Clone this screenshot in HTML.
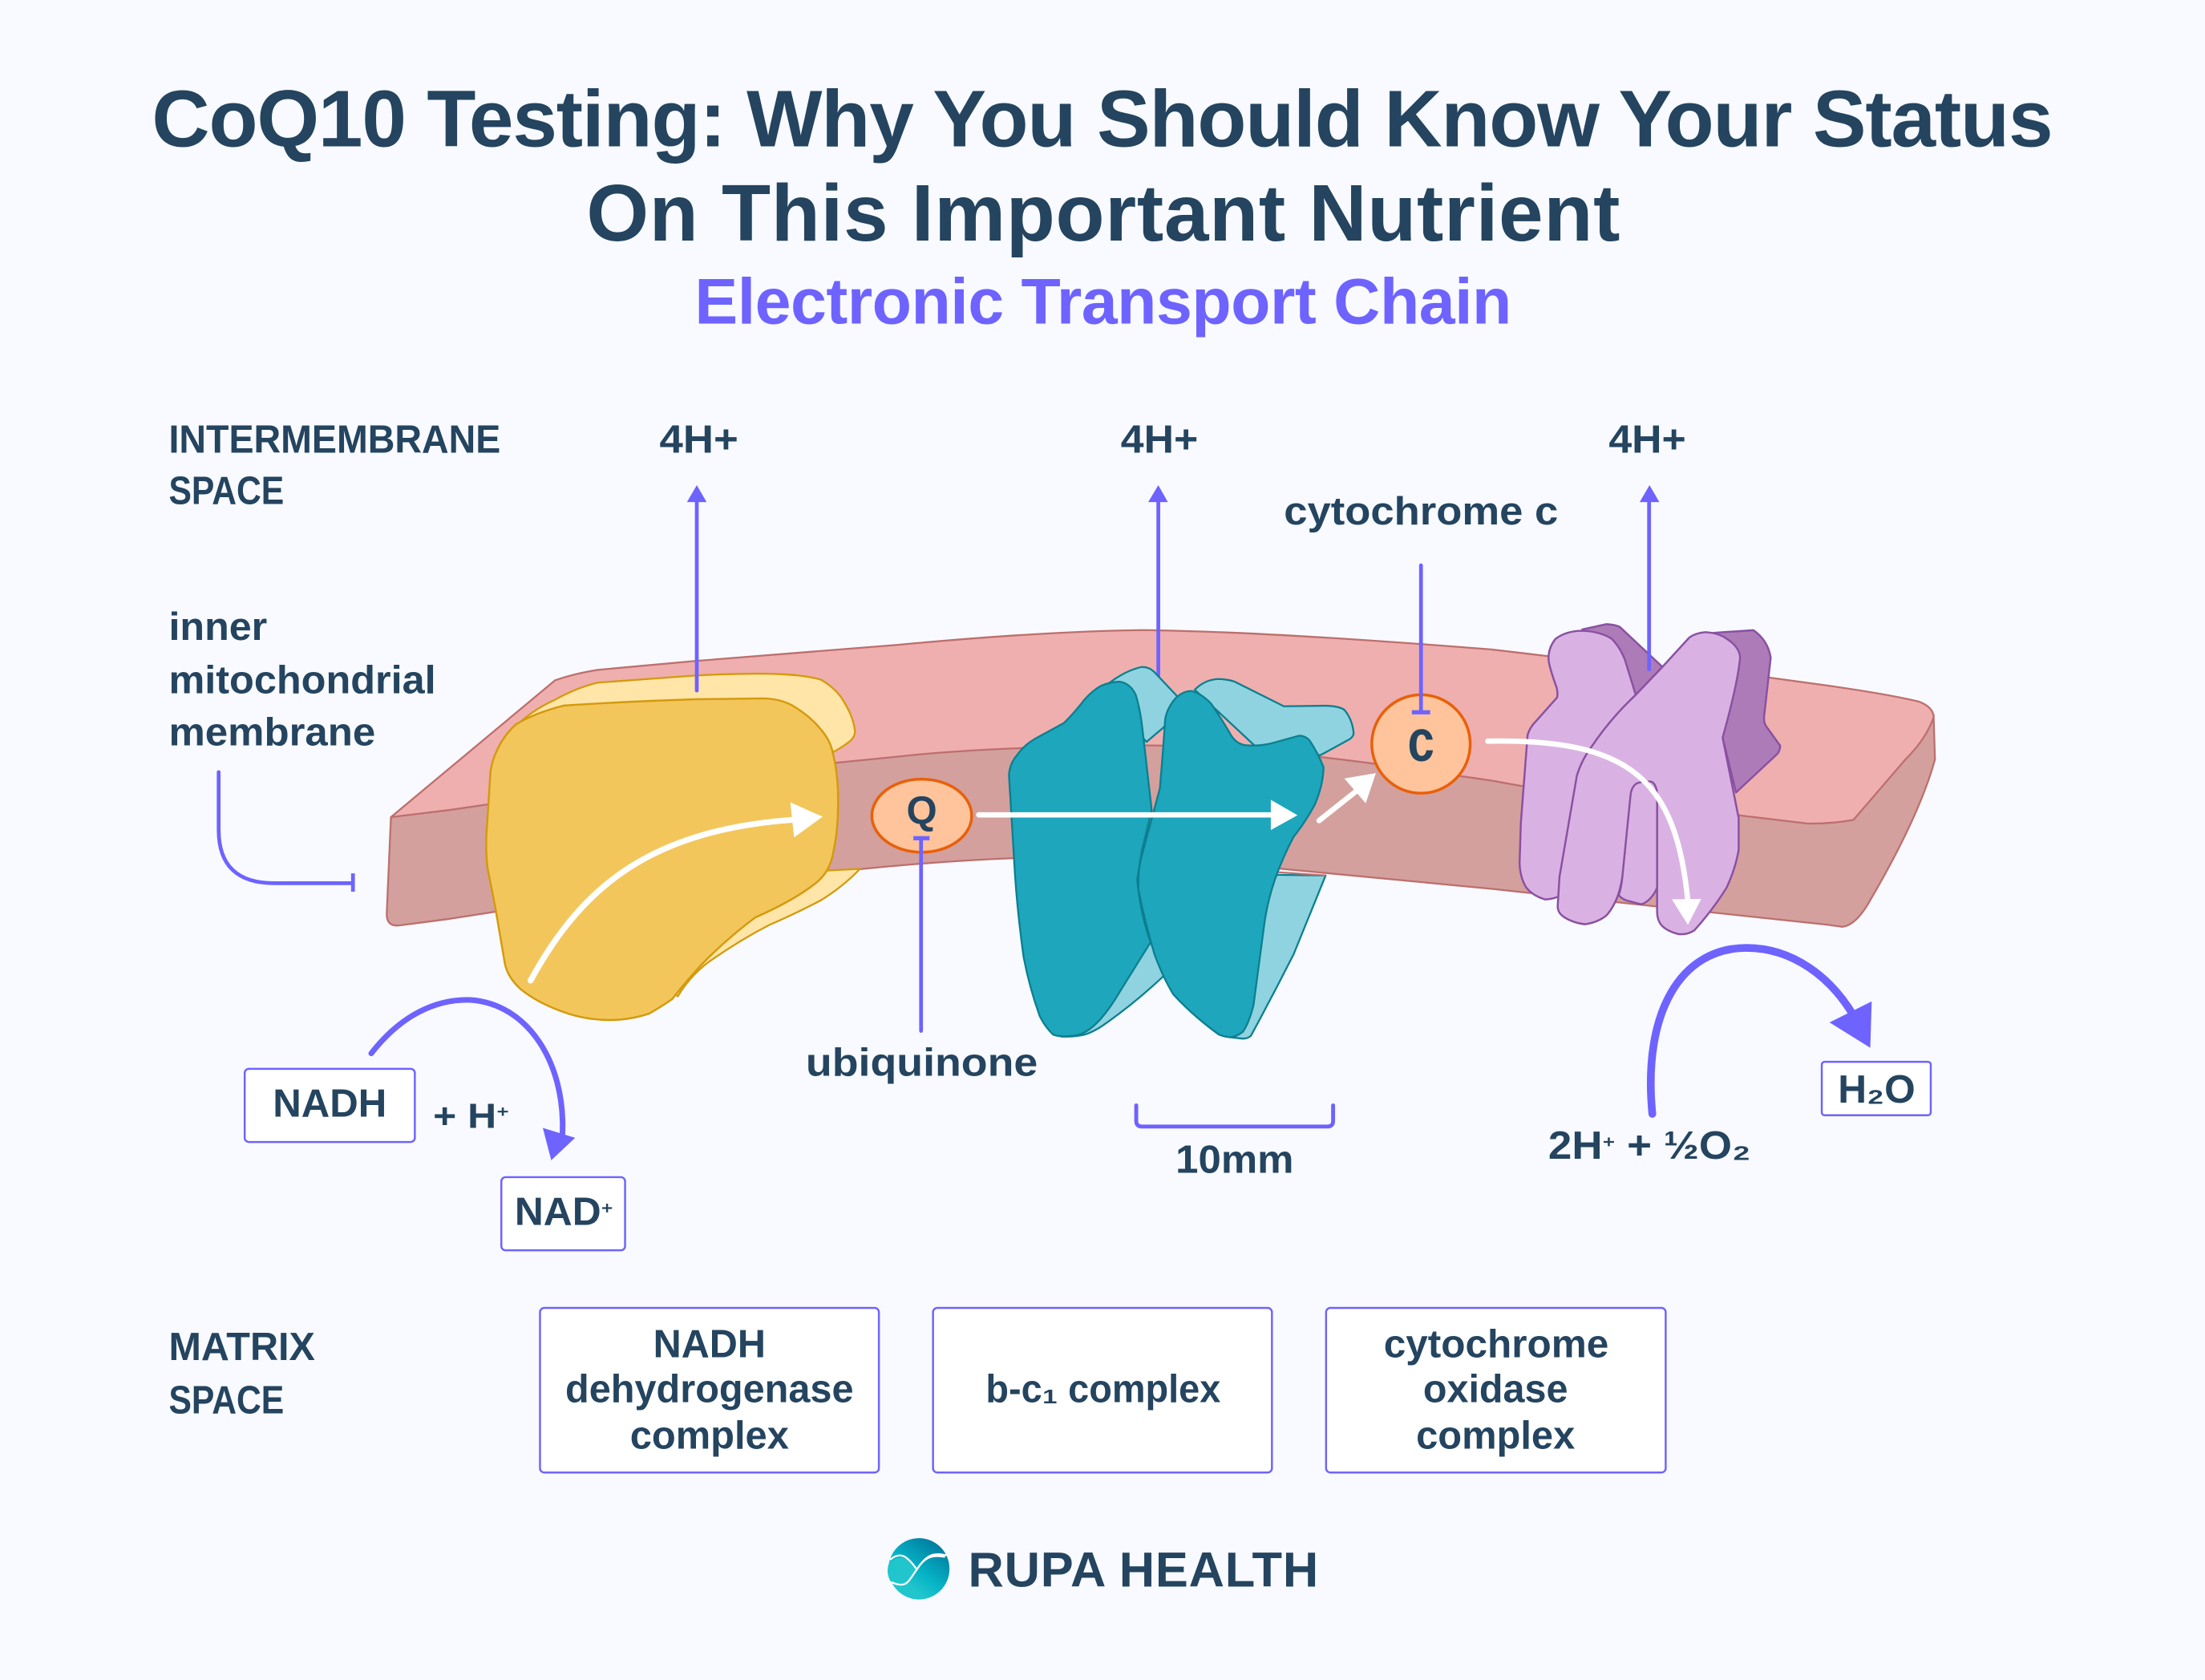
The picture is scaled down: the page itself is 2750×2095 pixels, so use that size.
<!DOCTYPE html>
<html><head><meta charset="utf-8"><style>
html,body{margin:0;padding:0;background:#F8FAFF}
svg{display:block}
text{font-family:"Liberation Sans",sans-serif;font-weight:700;fill:#24445F}
.l{font-size:28px}
</style></head><body>
<svg width="2750" height="2095" viewBox="0 0 2750 2095" xmlns="http://www.w3.org/2000/svg">
<defs><linearGradient id="g" x1="0.85" y1="0.1" x2="0.35" y2="0.8"><stop offset="0" stop-color="#007A9E"/><stop offset="0.65" stop-color="#06B4C6"/><stop offset="1" stop-color="#20C6CC"/></linearGradient></defs>
<rect width="2750" height="2095" fill="#F8FAFF"/>
<g transform="scale(1.7538)">
<text x="108" y="104" font-size="57" textLength="1352" lengthAdjust="spacing">CoQ10 Testing: Why You Should Know Your Status</text>
<text x="417" y="171" font-size="57" textLength="735" lengthAdjust="spacing">On This Important Nutrient</text>
<text x="494" y="230" font-size="46" textLength="581" lengthAdjust="spacing" style="fill:#6E63FF">Electronic Transport Chain</text>

<text class="l" x="120" y="322" textLength="236" lengthAdjust="spacingAndGlyphs">INTERMEMBRANE</text>
<text class="l" x="120" y="358.500" textLength="82" lengthAdjust="spacingAndGlyphs">SPACE</text>
<text class="l" x="469" y="322" textLength="56" lengthAdjust="spacingAndGlyphs">4H+</text>
<text class="l" x="797" y="322" textLength="55" lengthAdjust="spacingAndGlyphs">4H+</text>
<text class="l" x="1144" y="322" textLength="55" lengthAdjust="spacingAndGlyphs">4H+</text>
<text class="l" x="913" y="373" textLength="195" lengthAdjust="spacingAndGlyphs">cytochrome c</text>
<text class="l" x="120" y="455" textLength="70" lengthAdjust="spacingAndGlyphs">inner</text>
<text class="l" x="120" y="493" textLength="190" lengthAdjust="spacingAndGlyphs">mitochondrial</text>
<text class="l" x="120" y="530" textLength="147" lengthAdjust="spacingAndGlyphs">membrane</text>

<!-- membrane -->
<path d="M278,581 L275,650 Q275,659 284,658 L319.300,653.400 L352,648.300 L611.500,618 Q730,606 830,610 L1060.600,632 L1300,657.600 L1310,659 Q1320,658 1330,640 Q1365,580 1376,540 L1375,508 L1200,500 L830,520 L400,540 Z" fill="#D3A09E" stroke="#BD6F6D" stroke-width="1.3" stroke-linejoin="round"/>
<path d="M278,581 L394.600,483.800 Q408,479 425,476.300 L494.400,470 L638.600,458.500 Q740,449 812,448 Q900,449 1060.600,461.800 L1101.500,466.600 L1258.300,481.800 L1300,487.500 Q1345,494 1365,499 Q1375,503 1375,510 Q1370,525 1355,540 L1318,583 Q1300,586 1285,585.500 L1236.400,579.700 L1081.500,558.800 L1060.600,555 L977,543 Q880,530 812,530 Q700,531 638.600,538 L594,542.400 L346.800,572 L319.300,576 Z" fill="#EFAFAF" stroke="#BD6F6D" stroke-width="1.3" stroke-linejoin="round"/>

<!-- yellow -->
<path d="M365,518 Q378,505 394.600,497.600 Q410,489 425,485.400 L494.400,480.300 Q520,479 539,479 Q570,479 584,483.400 Q595,490 600,498.700 Q607,510 608,520 Q608,524 604.400,527 Q598,532 592,535 L588,619 L611.500,617.800 Q600,630 584,640 Q565,650 547.400,657.500 Q525,669 502.600,685 Q490,695 482,708.400 L470,700 L380,600 Z" fill="#FFE5A8" stroke="#D49A0C" stroke-width="1.3" stroke-linejoin="round"/>
<path d="M494.400,497.200 L543.300,496.600 Q555,497 563.600,501.700 Q576,509 584,519 Q590,526 592,534.300 Q596,550 596,569 Q596,590 593,603.500 Q592,612 588,619 Q585,624 580,628 Q565,640 537,652.400 Q520,665 502.600,682 Q490,695 478,710.400 Q470,716 461.800,720.600 Q448,725.300 433.300,725.300 Q415,725 400.800,719.600 Q382,713 370.200,703.300 Q361,695 359,685 L352,644 L346.800,617.800 Q345.500,608 345.800,595.400 L348.800,548.500 Q350,540 354,532.300 Q359,522 367,515 Q380,507 400.800,501.700 Q440,499 494.400,497.200 Z" fill="#F3C65C" stroke="#D49A0C" stroke-width="1.400" stroke-linejoin="round"/>
<path d="M377.300,697.200 C415,628 465,590 565,582.800" fill="none" stroke="#fff" stroke-width="4.200" stroke-linecap="round"/>
<polygon points="562,570.500 585,580.700 564.700,595.400" fill="#fff"/>

<!-- purple up arrows -->
<g stroke="#6E63FF" stroke-width="2.700" stroke-linecap="round" fill="none">
<path d="M495.500,491 V352"/><path d="M823.700,491 V352"/>
</g>
<g fill="#6E63FF"><polygon points="495.500,345 502.500,357 488.500,357"/><polygon points="823.700,345 830.500,357 816.500,357"/><polygon points="1173,345 1180,357 1166,357"/></g>

<!-- teal -->
<g fill="#8FD3E0" stroke="#0C7F8F" stroke-width="1.300" stroke-linejoin="round">
<path d="M788.700,485.700 Q800,477 811.500,474.300 Q817,474 821,478 L838,496 L827.700,517 L815.300,527.500 L800,510 Z"/>
<path d="M849.600,490.400 Q857,483 866.700,482.800 Q873,483 878,484.700 L913,502.200 L942.700,501.800 Q952,502 956,504.700 Q962,512 962.600,521.800 Q962,524 959.800,525.600 L938.900,537 L892,530 Z"/>
<path d="M906,622 L942.700,622.500 L919.900,678.600 Q905,708 889.500,736.600 Q887,738.500 883.800,738.500 L874,737.500 Z"/>
<path d="M818.200,670 L827.700,693.800 Q805,715 783,730 Q775,735 769.700,736 Q762,737.500 754.500,737 L790,700 Z"/>
</g>
<path d="M906,620 L942.700,622.500" fill="none" stroke="#BD6F6D" stroke-width="1.300"/>
<g fill="#1DA6BC" stroke="#0C7F8F" stroke-width="1.300" stroke-linejoin="round">
<path d="M796.300,484.700 Q804,486 807.700,494.200 Q811,505 812.500,519 L819,576 L812,605 L808.700,625.400 Q811,650 818.200,670 L796.300,705.200 Q790,716 783,724.200 Q772,736.600 762,736.600 Q753,737.500 748.800,735.600 Q743,730 739.300,722.300 Q732,702 727.900,680.500 Q723,645 721.300,614 L717.500,551.200 Q718,543 723.200,537 Q728,530 735.500,525.600 L756.400,514.200 Q763,508 771.600,497 Q777,491 783,487.600 Q790,484.700 796.300,484.700 Z"/>
<path d="M847.700,491.400 Q854,493 861,500 Q868,510 874.300,520.800 Q879,530 887.600,530 Q896,530.500 904.700,528.400 L923.700,523.100 Q928,523 931.300,526.500 Q937,535 941.200,545.500 Q941,558 935,572.100 Q928,585 919.900,595 Q912,610 906.600,625.400 Q901,642 899,657.700 L891.400,714.700 Q888,728 883.800,733.700 Q879,737.500 874.300,737.500 Q870,737 866.700,735.600 Q848,722 834.400,707.100 Q827,695 821,678.600 Q814,655 809.600,633 Q809,620 811.500,610 L824.800,560.700 Q827,535 828.600,511.300 Q830,503 836.300,496.100 Q842,491 847.700,491.400 Z"/>
</g>
<path d="M696,579.400 H905" stroke="#fff" stroke-width="3.800" stroke-linecap="round"/>
<polygon points="903.700,568.700 922.700,579.700 903.700,590.200" fill="#fff"/>
<path d="M938,583.500 L965.500,561.700" stroke="#fff" stroke-width="3.800" stroke-linecap="round"/>
<polygon points="956,553.500 978.400,549.700 971.200,571.200" fill="#fff"/>

<!-- Q -->
<ellipse cx="655.500" cy="580" rx="35.500" ry="26" fill="#FFC49B" stroke="#E8600A" stroke-width="2"/>
<text x="655.500" y="586" font-size="28" text-anchor="middle">Q</text>
<path d="M655,596 V733" stroke="#6E63FF" stroke-width="2.700" stroke-linecap="round"/>
<path d="M649.500,596 H661" stroke="#6E63FF" stroke-width="3"/>

<!-- purple protein -->
<g fill="#AD7CB8" stroke="#8A50A2" stroke-width="1.400" stroke-linejoin="round">
<path d="M1125.200,447.600 L1142.300,443.800 Q1148,444 1151.800,445.700 L1182.200,474.200 L1163.200,494.100 L1140,480 Z"/>
<path d="M1218.400,450 L1246.900,448.100 Q1257,455 1259.200,467.500 L1254.500,509.300 Q1254,514 1256.400,517 L1265.900,530.200 Q1266,533 1264,536 L1234.500,563.500 L1225,524.500 L1237,468 Z"/>
</g>
<path d="M1172.700,476 V352" stroke="#6E63FF" stroke-width="2.700" stroke-linecap="round"/>
<g fill="#D9B2E3" stroke="#8A50A2" stroke-width="1.400" stroke-linejoin="round">
<path d="M1125.200,448.500 Q1138,449 1146.100,454.200 Q1152,460 1155.600,469.400 L1163.200,494.100 L1120,620 L1108.100,637.600 Q1103,639.500 1098.600,639.500 Q1090,637 1085.300,631 Q1081,624 1080.600,613.900 L1081.500,585.400 L1086.300,522.600 Q1088,517 1092,513.100 L1107.200,496 Q1108,494 1107,489 Q1103,478 1101.500,471.300 Q1100,462 1106.200,454.200 Q1114,448.500 1125.200,448.500 Z"/>
<path d="M1201.300,453.300 Q1206,450 1212.700,449.500 Q1222,450 1227.900,454.200 Q1237,460 1237.400,467.500 Q1236,485 1225,524.500 L1236.400,581.600 L1236.400,604.400 Q1234,618 1227.900,631 Q1218,647 1205,661.400 Q1200,664.800 1193.700,664.200 Q1185,662 1181.300,657.600 Q1178.400,654 1178.400,648 L1178.400,564.500 L1165,560 L1153.700,623.400 Q1152,634 1149,640.500 Q1146,647 1142.300,651 Q1136,656 1127,657.200 Q1118,656 1112,651.900 Q1107.700,649 1107.700,644.300 L1109,623.400 L1121.400,551.200 Q1125,540 1131,532.100 Q1145,511 1163.200,494.100 L1182.200,474.200 Z"/>
<path d="M1178.400,564.500 Q1178,558 1174.600,555.900 Q1170,555 1164.200,556.900 Q1160,559 1159.400,566.400 L1153.700,623.400 Q1152.500,634 1151,636 Q1152.500,639 1157.500,640.500 L1167,643 Q1171,642 1174.600,637.600 Q1177.500,634 1178.400,631 Z"/>
</g>
<path d="M1058,527 C1160,525 1192,555 1200.300,641" fill="none" stroke="#fff" stroke-width="3.800" stroke-linecap="round"/>
<polygon points="1188.900,639.500 1209.800,639.200 1200.300,657.600" fill="#fff"/>

<!-- c -->
<circle cx="1010.500" cy="529" r="35" fill="#FFC49B" stroke="#E8600A" stroke-width="2"/>
<text x="1001" y="541" font-size="42" textLength="19" lengthAdjust="spacingAndGlyphs">c</text>
<path d="M1010.500,402 V506" stroke="#6E63FF" stroke-width="2.700" stroke-linecap="round"/>
<path d="M1004,506.500 H1017" stroke="#6E63FF" stroke-width="3"/>

<!-- inner membrane pointer -->
<path d="M155.500,549 V590 Q155.500,628 195,628 H251" fill="none" stroke="#6E63FF" stroke-width="2.700" stroke-linecap="round"/>
<path d="M251,621 V634" stroke="#6E63FF" stroke-width="2.700"/>

<!-- NADH -->
<path d="M264,749 C285,722 310,710 335,711 C375,714 402,755 400,806" fill="none" stroke="#6E63FF" stroke-width="4" stroke-linecap="round"/>
<polygon points="386,802 409,809 392,825" fill="#6E63FF"/>
<rect x="174" y="760" width="121" height="52" rx="3" fill="#fff" stroke="#6E63FF" stroke-width="1.400"/>
<text class="l" x="194" y="794" textLength="81" lengthAdjust="spacingAndGlyphs">NADH</text>
<text x="308" y="802" font-size="25" textLength="54" lengthAdjust="spacingAndGlyphs">+ H<tspan font-size="15" dy="-4">⁺</tspan></text>
<rect x="356.500" y="837" width="88" height="52" rx="3" fill="#fff" stroke="#6E63FF" stroke-width="1.400"/>
<text class="l" x="366" y="871" textLength="70" lengthAdjust="spacingAndGlyphs">NAD<tspan font-size="16" dy="-4">⁺</tspan></text>
<text class="l" x="573" y="765" textLength="165" lengthAdjust="spacingAndGlyphs">ubiquinone</text>

<!-- bracket -->
<path d="M808,786 V797 Q808,801 812,801 H944 Q948,801 948,797 V786" fill="none" stroke="#6E63FF" stroke-width="2.800" stroke-linecap="round"/>
<text class="l" x="836" y="834" textLength="84" lengthAdjust="spacingAndGlyphs">10mm</text>

<!-- water -->
<path d="M1175,792 C1168,720 1195,674 1242,674 C1275,674 1302,695 1318,722" fill="none" stroke="#6E63FF" stroke-width="5.500" stroke-linecap="round"/>
<polygon points="1331,712 1301,727 1330,745" fill="#6E63FF"/>
<rect x="1295.500" y="755" width="77.500" height="38" rx="2" fill="#fff" stroke="#6E63FF" stroke-width="1.400"/>
<text class="l" x="1307" y="784" textLength="55" lengthAdjust="spacingAndGlyphs">H₂O</text>
<text class="l" x="1101" y="824" textLength="144" lengthAdjust="spacingAndGlyphs">2H<tspan font-size="16" dy="-4">⁺</tspan><tspan dy="4"> + ½O₂</tspan></text>

<!-- matrix -->
<text class="l" x="120" y="967" textLength="104" lengthAdjust="spacingAndGlyphs">MATRIX</text>
<text class="l" x="120" y="1005" textLength="82" lengthAdjust="spacingAndGlyphs">SPACE</text>
<g fill="#fff" stroke="#6E63FF" stroke-width="1.400">
<rect x="384" y="930" width="241" height="117" rx="3"/>
<rect x="663.500" y="930" width="241" height="117" rx="3"/>
<rect x="943" y="930" width="241.500" height="117" rx="3"/>
</g>
<text class="l" x="464.500" y="965" textLength="80" lengthAdjust="spacingAndGlyphs">NADH</text>
<text class="l" x="402" y="997" textLength="205" lengthAdjust="spacingAndGlyphs">dehydrogenase</text>
<text class="l" x="448" y="1030" textLength="113" lengthAdjust="spacingAndGlyphs">complex</text>
<text class="l" x="701" y="997" textLength="167" lengthAdjust="spacingAndGlyphs">b-c₁ complex</text>
<text class="l" x="984" y="965" textLength="160" lengthAdjust="spacingAndGlyphs">cytochrome</text>
<text class="l" x="1012" y="997" textLength="103" lengthAdjust="spacingAndGlyphs">oxidase</text>
<text class="l" x="1007" y="1030" textLength="113" lengthAdjust="spacingAndGlyphs">complex</text>

<!-- logo -->
<ellipse cx="653.500" cy="1115.500" rx="21.700" ry="21.800" fill="url(#g)"/>
<path d="M632,1112 Q640,1104 646,1110 L652,1116 L646,1124 Q640,1130 633,1124 Q630,1118 632,1112 Z" fill="#20C6CC"/>
<path d="M633,1109 C640,1103 645,1106 652,1116 C657,1108 662,1103 673,1106 M634,1125 C645,1130 646,1124 652,1116 C657,1108 662,1105 672,1107" fill="none" stroke="#fff" stroke-width="1.300"/>
<text x="688.500" y="1128" font-size="35" textLength="249" lengthAdjust="spacing">RUPA HEALTH</text>
</g>
</svg>
</body></html>
